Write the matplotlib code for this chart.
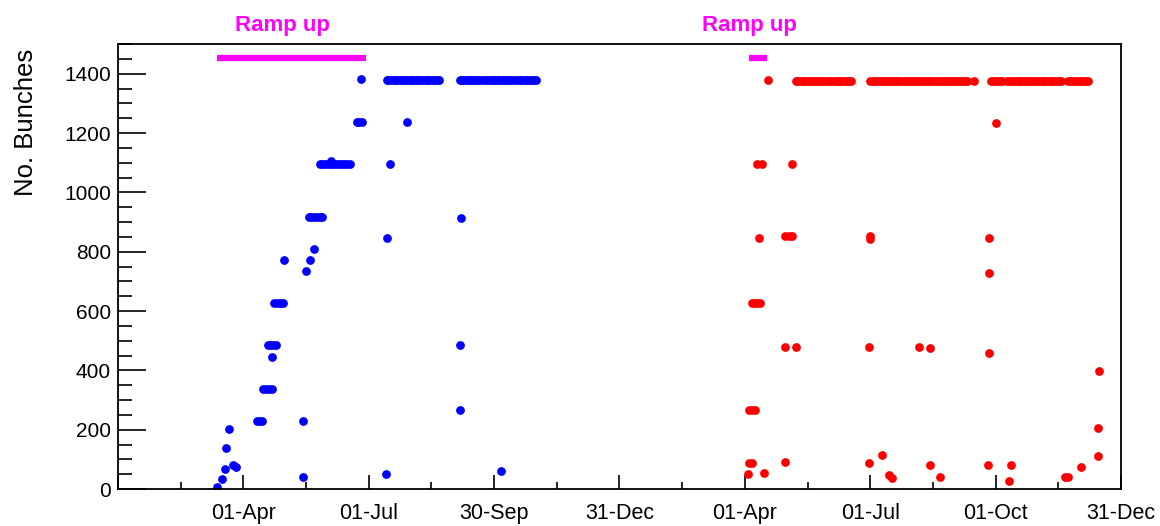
# number of colliding bunches per fill, 2011 (blue) and 2012 (red)
import numpy as np
import matplotlib.pyplot as plt
import matplotlib.dates as mdates
from matplotlib.ticker import MultipleLocator

plt.rcParams['font.family'] = ['Liberation Sans', 'DejaVu Sans']

# 2011: day of year and number of bunches
blue_doy = [72, 76, 78, 79, 81, 84, 86,
            101, 103, 105, 106, 108, 110, 112, 112,
            109, 111, 113, 115, 114, 116, 118, 120, 121,
            135, 135, 137, 140, 143,
            139, 141, 143, 145, 147, 149,
            147, 149, 151, 153, 155, 157, 159, 161, 163, 165, 167, 169, 155,
            174, 176, 178, 177,
            195, 196, 198, 211,
            249, 249, 250, 279]
blue_n = [8, 34, 68, 139, 203, 80, 75,
          230, 230, 230, 338, 338, 338, 338, 446,
          484, 484, 484, 484, 626, 626, 626, 626, 771,
          230, 40, 734, 771, 808,
          916, 916, 916, 916, 916, 916,
          1095, 1095, 1095, 1095, 1095, 1095, 1095, 1095, 1095, 1095, 1095, 1095, 1105,
          1238, 1238, 1238, 1383,
          51, 845, 1095, 1238,
          484, 267, 913, 61]
# 2011 fills with the full 1380 bunch scheme
blue_full_doy = [196, 197, 199, 201, 202, 204, 206, 207, 209, 211, 213, 214, 216,
                 218, 219, 221, 223, 225, 226, 228, 230, 231, 233, 234,
                 249, 251, 252, 254, 256, 257, 259, 261, 262, 264, 266, 268, 269,
                 271, 273, 274, 276, 278, 280, 281, 283, 285, 286, 288, 290, 292,
                 293, 295, 297, 298, 300, 302, 304, 305]
blue_full_n = 1380

# 2012
red_doy = [94, 95, 97, 95, 97, 99, 97, 99, 101, 103, 102, 101, 104, 106, 109,
           121, 129, 121, 124, 126, 121, 126,
           182, 183, 183, 182, 192, 197, 199,
           219, 227, 227, 234,
           269, 270, 270, 270, 275, 284, 286,
           325, 327, 337, 349, 349, 350]
red_n = [51, 88, 88, 267, 267, 267, 627, 627, 627, 627, 845, 1095, 1095, 54, 1380,
         480, 480, 852, 852, 852, 91, 1095,
         480, 852, 842, 88, 115, 47, 37,
         480, 477, 81, 41,
         81, 845, 727, 460, 1234, 27, 81,
         41, 41, 74, 112, 206, 399]
red_full_doy = [129, 130, 132, 134, 135, 137, 139, 140, 142, 144, 146, 147, 149,
                151, 153, 154, 156, 158, 160, 161, 163, 165, 166, 168, 169,
                183, 185, 186, 188, 190, 191, 193, 195, 197, 198, 200, 202, 203,
                205, 207, 209, 210, 212, 214, 215, 217, 219, 221, 222, 224, 226,
                227, 229, 231, 233, 234, 236, 238, 239, 241, 243, 245, 246, 248,
                250, 251, 253, 254, 259,
                271, 273, 274, 276, 278, 279, 283, 285, 286, 288, 290, 292, 293,
                295, 297, 298, 300, 302, 304, 305, 307, 309, 310, 312, 314, 316,
                317, 319, 321, 322, 327, 329, 330, 332, 334, 336, 337, 339, 341, 342]
red_full_n = 1376

ramp_2011 = ['2011-03-13', '2011-06-30']
ramp_2012 = ['2012-04-04', '2012-04-17']
ramp_level = 1452

tick_labels = ['', '01-Apr', '01-Jul', '30-Sep', '31-Dec',
               '01-Apr', '01-Jul', '01-Oct', '31-Dec']


def to_date(year, doy):
    return np.datetime64(f'{year}-01-01') + np.array(doy) - 1


fig = plt.figure(figsize=(11.6, 5.26), dpi=100)
ax = fig.add_axes([0.1017, 0.0703, 0.8647, 0.8457])

ms = 6.3
ax.plot(to_date(2011, blue_doy), blue_n, 'o', color='#0000ff', ms=ms, mew=0)
ax.plot(to_date(2011, blue_full_doy), np.full(len(blue_full_doy), blue_full_n),
        'o', color='#0000ff', ms=ms, mew=0)
ax.plot(to_date(2012, red_doy), red_n, 'o', color='#ff0000', ms=ms, mew=0)
ax.plot(to_date(2012, red_full_doy), np.full(len(red_full_doy), red_full_n),
        'o', color='#ff0000', ms=ms, mew=0)

# ramp up periods
for r in (ramp_2011, ramp_2012):
    ax.plot(np.array(r, dtype='datetime64[D]'), [ramp_level, ramp_level],
            color='#ff00ff', lw=4.5, solid_capstyle='butt')
for d in ('2011-04-30', '2012-04-04'):
    ax.text(mdates.date2num(np.datetime64(d)), 1.043, 'Ramp up',
            transform=ax.get_xaxis_transform(), ha='center', va='center',
            color='#ff00ff', fontsize=16, fontweight='bold')

x0 = mdates.date2num(np.datetime64('2010-12-31'))
x1 = mdates.date2num(np.datetime64('2012-12-31'))
ax.set_xlim(x0, x1)
major = np.linspace(x0, x1, 9)
ax.set_xticks(major)
ax.set_xticklabels(tick_labels)
ax.set_xticks((major[:-1] + major[1:]) / 2, minor=True)

ax.set_ylim(0, 1500)
ax.yaxis.set_major_locator(MultipleLocator(200))
ax.yaxis.set_minor_locator(MultipleLocator(50))

ax.tick_params(axis='x', which='major', direction='in', length=10, width=1.2,
               pad=10, labelsize=15.5, top=False)
ax.tick_params(axis='x', which='minor', direction='in', length=5, width=1.2, top=False)
ax.tick_params(axis='y', which='major', direction='in', length=20, width=1.2,
               pad=5, labelsize=15, right=False)
ax.tick_params(axis='y', which='minor', direction='in', length=10, width=1.2, right=False)
for s in ax.spines.values():
    s.set_linewidth(1.3)

ax.set_ylabel('No. Bunches', fontsize=18.5, loc='top')
ax.yaxis.set_label_coords(-0.08, 0.99)

fig.savefig('out.png', dpi=100)
